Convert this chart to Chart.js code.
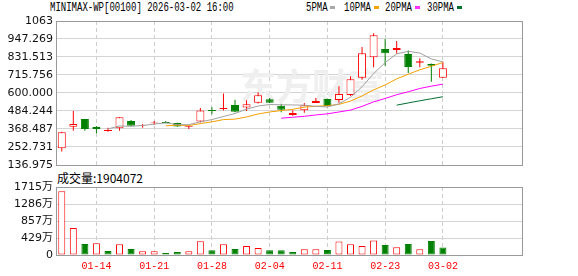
<!DOCTYPE html>
<html>
<head>
<meta charset="utf-8">
<script src="https://cdn.jsdelivr.net/npm/chart.js@4"></script>
<style>
body { margin: 0; width: 578px; height: 276px; position: relative; background: #fff; overflow: hidden; }
canvas { position: absolute; left: 0; }
.mono { position: absolute; font: 12px "Liberation Mono", monospace; line-height: 12px; color: #000; transform-origin: 0 0; transform: scaleX(0.75); white-space: nowrap; }
.sw { position: absolute; width: 5px; height: 3px; top: 6px; }
#volTitle { position: absolute; left: 57px; top: 171px; font: 12px "Noto Sans CJK SC", sans-serif; line-height: 13px; color: #000; white-space: nowrap; }
</style>
</head>
<body>
<div class="mono" style="left:50px;top:2px">MINIMAX-WP[00100] 2026-03-02 16:00</div>
<div class="mono" style="left:306px;top:2px">5PMA</div><div class="sw" style="left:330px;background:#a8a8a8"></div>
<div class="mono" style="left:344px;top:2px">10PMA</div><div class="sw" style="left:374px;background:#f5a300"></div>
<div class="mono" style="left:385px;top:2px">20PMA</div><div class="sw" style="left:415px;background:#ff33ff"></div>
<div class="mono" style="left:427px;top:2px">30PMA</div><div class="sw" style="left:457px;background:#00702e"></div>
<div id="volTitle">成交量:1904072</div>
<canvas id="priceChart" width="578" height="176" style="top:0"></canvas>
<canvas id="volChart" width="578" height="106" style="top:170px"></canvas>
<script>
// --- DATA ---
const opens  = [244, 383, 433, 381, 356, 373, 420, 390, 406, 413, 407, 381, 417, 490, 497, 523, 506, 537, 560, 518, 459, 489, 536, 561, 555, 587, 698, 830, 883, 876, 851, 794, 787, 698];
const highs  = [351, 484, 433, 388, 377, 444, 426, 400, 420, 420, 409, 389, 503, 509, 596, 557, 553, 605, 568, 531, 489, 536, 568, 563, 643, 707, 896, 985, 947, 935, 873, 823, 790, 801];
const lows   = [223, 357, 358, 341, 351, 358, 390, 377, 394, 405, 383, 368, 411, 463, 488, 476, 484, 533, 535, 476, 454, 473, 536, 514, 538, 581, 685, 765, 776, 853, 728, 765, 673, 698];
const closes = [347, 400, 368, 369, 362, 444, 390, 393, 410, 405, 385, 386, 488, 484, 503, 480, 527, 585, 537, 493, 472, 521, 548, 516, 594, 688, 856, 972, 855, 889, 767, 804, 776, 759];

// moving averages, first value sits on day 4 / 9 / 19 / 29
const ma5  = [369, 388, 386, 391, 400, 408, 397, 396, 415, 429, 449, 468, 496, 516, 526, 524, 523, 522, 514, 510, 530, 573, 640, 725, 795, 852, 868, 857, 819, 800];
const ma10 = [389, 393, 391, 403, 415, 429, 432, 446, 465, 478, 487, 495, 509, 515, 518, 527, 548, 581, 620, 652, 691, 721, 749, 772, 796];
const ma20 = [438, 444, 450, 459, 466, 478, 490, 514, 543, 565, 589, 608, 629, 644, 657];
const ma30 = [522, 536, 550, 563, 576];

// volume in 万 shares; volUp = red (close >= previous close)
const volumes = [1607, 678, 276, 294, 100, 268, 151, 93, 93, 50, 75, 93, 344, 118, 268, 151, 226, 176, 118, 118, 75, 143, 143, 126, 343, 268, 226, 368, 251, 193, 276, 143, 351, 190.4];
const volUp   = [1, 1, 0, 1, 0, 1, 0, 1, 1, 0, 0, 1, 1, 0, 1, 0, 1, 1, 0, 0, 0, 1, 1, 0, 1, 1, 1, 1, 0, 1, 0, 1, 0, 0];

const dateIdx    = [3, 8, 13, 18, 23, 28, 33];
const dateLabels = ['01-14', '01-21', '01-28', '02-04', '02-11', '02-23', '03-02'];
const yTickLabels   = ['136.975', '252.731', '368.487', '484.244', '600.000', '715.756', '831.513', '947.269', '1063'];
const volTickLabels = ['0', '429万', '857万', '1286万', '1715万'];

const RED = '#ff0000', GREEN = '#008000';
const yTicks = yTickLabels.map(Number);
const volTicks = [0, 428.75, 857.5, 1286.25, 1715];
const isUp = opens.map((o, i) => closes[i] >= o);

// grey frame round the plot area
const frame = {
    id: 'frame',
    afterDraw(c) {
        const a = c.chartArea, ctx = c.ctx;
        ctx.save();
        ctx.strokeStyle = '#999';
        ctx.lineWidth = 1;
        ctx.strokeRect(Math.round(a.left) + 0.5, Math.round(a.top) + 0.5, Math.round(a.right - a.left), Math.round(a.bottom - a.top));
        ctx.restore();
    }
};

// faint watermark behind the candles
const watermark = {
    id: 'watermark',
    beforeDatasetsDraw(c) {
        const ctx = c.ctx;
        ctx.save();
        ctx.fillStyle = '#efefef';
        ctx.font = 'bold 36px "Noto Sans CJK SC"';
        ctx.textBaseline = 'middle';
        ctx.fillText('东方财富', 240, 86);
        ctx.restore();
    }
};

const xCommon = {
    type: 'linear', min: -0.5, max: 39.85, offset: false,
    afterBuildTicks: s => { s.ticks = dateIdx.map(v => ({ value: v })); },
    grid: { color: '#cccccc', drawTicks: false, offset: false },
    border: { display: false, dash: [4, 3] }
};

const lineSet = (vals, start, color) => ({
    type: 'line',
    data: vals.map((v, i) => ({ x: start + i, y: v })),
    borderColor: color, borderWidth: 1, pointRadius: 0, tension: 0, order: 0
});

new Chart(document.getElementById('priceChart'), {
    data: {
        datasets: [
            lineSet(ma5, 4, '#a0a0a0'),
            lineSet(ma10, 9, '#f5a000'),
            lineSet(ma20, 19, '#ff00ff'),
            lineSet(ma30, 29, '#006e32'),
            {
                type: 'bar',
                data: opens.map((o, i) => ({ x: i, y: [o, closes[i]] })),
                backgroundColor: isUp.map(u => u ? '#fff' : GREEN),
                borderColor: isUp.map(u => u ? RED : GREEN),
                borderWidth: 1, borderSkipped: false, barThickness: 8,
                grouped: false, inflateAmount: 0, order: 2
            },
            {
                type: 'bar',
                data: lows.map((l, i) => ({ x: i, y: [l, highs[i]] })),
                backgroundColor: isUp.map(u => u ? RED : GREEN),
                borderWidth: 0, barThickness: 1,
                grouped: false, inflateAmount: 0, order: 3
            }
        ]
    },
    options: {
        responsive: false, animation: false, events: [],
        layout: { padding: { top: 21, right: 56, bottom: 11, left: 0 } },
        plugins: { legend: { display: false }, tooltip: { enabled: false } },
        scales: {
            x: Object.assign({}, xCommon, {
                afterFit: s => { s.height = 0; },
                ticks: { display: false }
            }),
            y: {
                min: yTicks[0], max: yTicks[yTicks.length - 1],
                afterFit: s => { s.width = 56; },
                afterBuildTicks: s => { s.ticks = yTicks.map(v => ({ value: v })); },
                ticks: { callback: (v, i) => yTickLabels[i], color: '#111', padding: 3, font: { family: 'DejaVu Sans', size: 11 } },
                grid: { color: '#d4d4d4', drawTicks: false },
                border: { display: false }
            }
        }
    },
    plugins: [watermark, frame]
});

new Chart(document.getElementById('volChart'), {
    type: 'bar',
    data: {
        datasets: [{
            data: volumes.map((v, i) => ({ x: i, y: v })),
            backgroundColor: volUp.map(u => u ? '#fff' : GREEN),
            borderColor: volUp.map(u => u ? RED : GREEN),
            borderWidth: 1, borderSkipped: false, barThickness: 7, inflateAmount: 0
        }]
    },
    options: {
        responsive: false, animation: false, events: [],
        layout: { padding: { top: 17, right: 56, bottom: 0, left: 0 } },
        plugins: { legend: { display: false }, tooltip: { enabled: false } },
        scales: {
            x: Object.assign({}, xCommon, {
                afterFit: s => { s.height = 21; },
                ticks: { callback: (v, i) => dateLabels[i], color: RED, padding: 5, maxRotation: 0, autoSkip: false, font: { family: 'Liberation Mono', size: 10 } }
            }),
            y: {
                min: 0, max: 1715,
                afterFit: s => { s.width = 56; },
                afterBuildTicks: s => { s.ticks = volTicks.map(v => ({ value: v })); },
                ticks: { callback: (v, i) => volTickLabels[i], color: '#111', padding: 3, font: { family: '"DejaVu Sans", "Noto Sans CJK SC"', size: 11 } },
                grid: { color: '#d4d4d4', drawTicks: false },
                border: { display: false }
            }
        }
    },
    plugins: [frame]
});
</script>
</body>
</html>
